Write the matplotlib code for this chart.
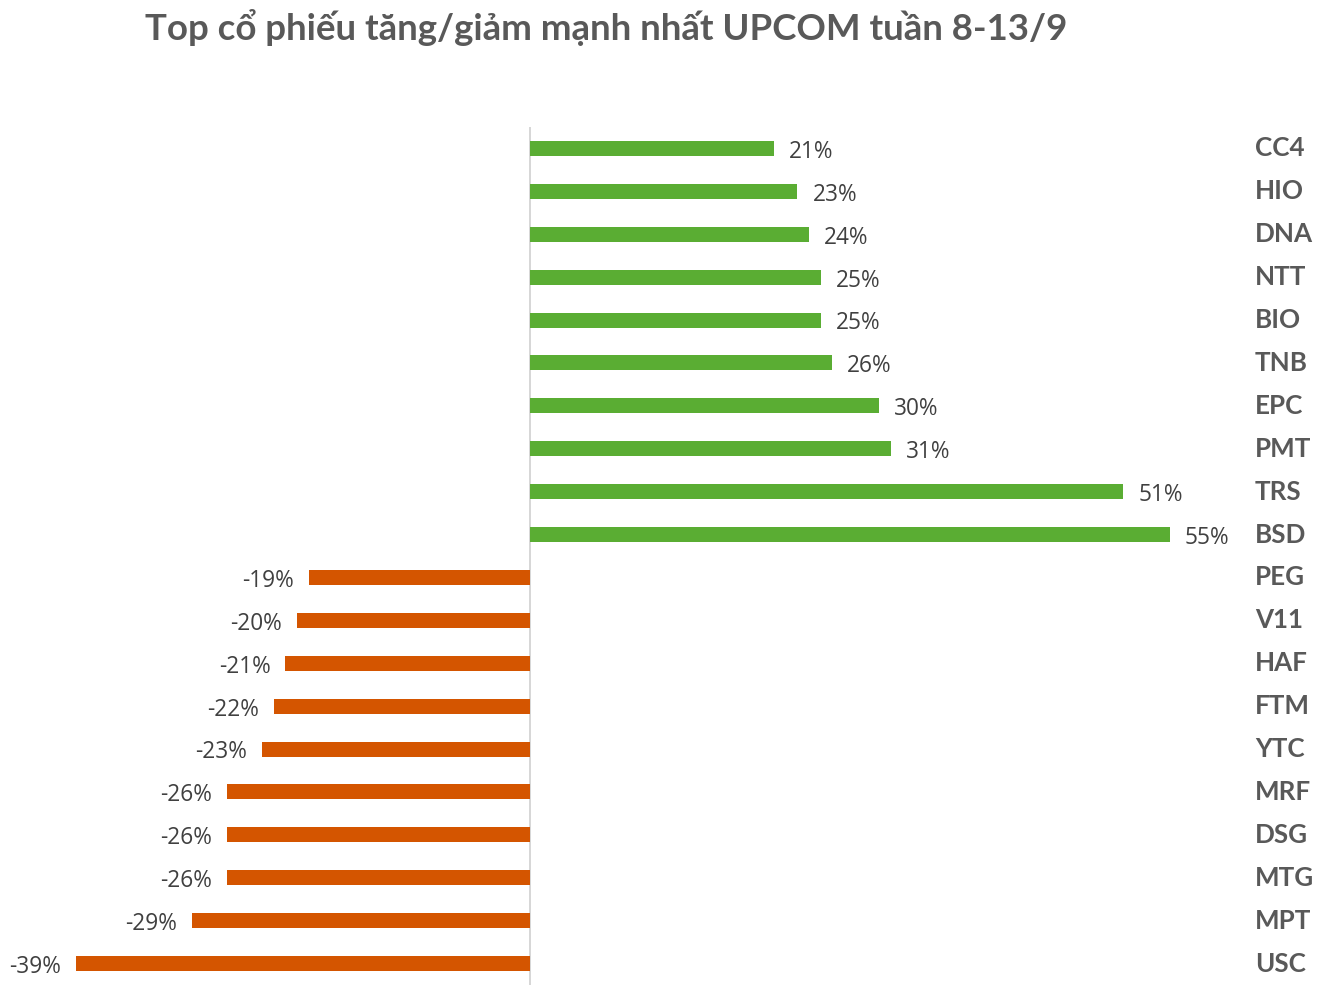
import matplotlib
matplotlib.use("Agg")
import matplotlib.pyplot as plt
from matplotlib.transforms import blended_transform_factory

# ---------------------------------------------------------------------------
# Data (top to bottom as shown)
# ---------------------------------------------------------------------------
TICKERS = ["CC4", "HIO", "DNA", "NTT", "BIO", "TNB", "EPC", "PMT", "TRS", "BSD",
           "PEG", "V11", "HAF", "FTM", "YTC", "MRF", "DSG", "MTG", "MPT", "USC"]
CHANGES = [21, 23, 24, 25, 25, 26, 30, 31, 51, 55,
           -19, -20, -21, -22, -23, -26, -26, -26, -29, -39]

TITLE = "Top cổ phiếu tăng/giảm mạnh nhất UPCOM tuần 8-13/9"

GREEN = "#5aad33"
ORANGE = "#d45500"
GREY_TXT = "#595959"
VAL_TXT = "#404040"

W, H, DPI = 1338, 988, 100
fig = plt.figure(figsize=(W / DPI, H / DPI), dpi=DPI)

# axes placed so that zero sits at x=529 px, -39 at x=76 px
x_lo, x_hi = -39, 60
px_per = (1169 - 529) / 55
ax_left = 76
ax_right = ax_left + (x_hi - x_lo) * px_per
ax_top, ax_bot = 127, 985
ax = fig.add_axes([ax_left / W, 1 - ax_bot / H, (ax_right - ax_left) / W, (ax_bot - ax_top) / H])

n = len(TICKERS)
ypos = list(range(n))
colors = [GREEN if v >= 0 else ORANGE for v in CHANGES]
ax.barh(ypos, CHANGES, height=0.35, color=colors, zorder=2)
ax.set_xlim(x_lo, x_hi)
ax.set_ylim(n - 0.5, -0.5)
ax.axvline(0, color="#d0d0d0", lw=1.2, zorder=1)

for sp in ax.spines.values():
    sp.set_visible(False)
ax.set_xticks([])
ax.set_yticks([])

# value labels
off = 15 / px_per
for y, v in zip(ypos, CHANGES):
    if v >= 0:
        ax.text(v + off, y + 0.08, f"{v}%", ha="left", va="center",
                fontsize=16.3, color=VAL_TXT, family="Open Sans")
    else:
        ax.text(v - off, y + 0.08, f"{v}%", ha="right", va="center",
                fontsize=16.3, color=VAL_TXT, family="Open Sans")

# ticker labels on the right
tr = blended_transform_factory(fig.transFigure, ax.transData)
for y, t in zip(ypos, TICKERS):
    fig.text(1255 / W, y, t, transform=tr, ha="left", va="center",
             fontsize=18.7, fontweight="bold", color=GREY_TXT, family="Lato")

fig.text(145 / W, 1 - 27 / H, TITLE, ha="left", va="center",
         fontsize=26.4, fontweight="bold", color=GREY_TXT, family="Lato")

fig.savefig("out.png", dpi=DPI)
